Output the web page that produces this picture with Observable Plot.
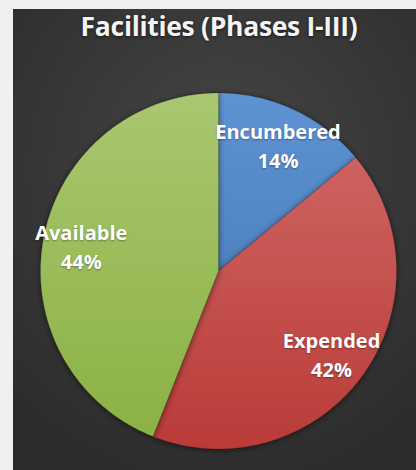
<!DOCTYPE html>
<html>
<head>
<meta charset="utf-8">
<script src="https://cdn.jsdelivr.net/npm/d3@7"></script>
<script src="https://cdn.jsdelivr.net/npm/@observablehq/plot@0.6"></script>
<style>
  html, body { margin: 0; padding: 0; background: #f0f0f0; width: 416px; height: 470px; overflow: hidden; }
  #panel { position: absolute; left: 13px; top: 9px; width: 403px; height: 461px;
    background: radial-gradient(ellipse 75% 70% at 52% 35%, #474747 0%, #3a3a3a 45%, #2c2c2c 100%); }
  #title { position: absolute; left: 0; top: -1px; width: 412px; text-align: center; color: #f4f4f4;
    font-family: "Open Sans", sans-serif; font-weight: 700; font-size: 26.5px; letter-spacing: -0.3px;
    text-shadow: 0 1px 3px rgba(0,0,0,0.6); }
  #chart { position: absolute; left: 0; top: 61px; }
  #chart svg { overflow: visible; }
</style>
</head>
<body>
<div id="panel">
  <div id="title">Facilities (Phases I-III)</div>
  <div id="chart"></div>
</div>
<script>
const categories = ["Encumbered", "Expended", "Available"];
const values = [14, 42, 44];
const labels = ["14%", "42%", "44%"];
const colors = ["url(#gBlue)", "url(#gRed)", "url(#gGreen)"];

const pie = d3.pie().sort(null).value(d => d)(values);

// Build slice outlines in unit-circle data space
const slices = [];
pie.forEach((p, i) => {
  const steps = Math.max(8, Math.ceil((p.endAngle - p.startAngle) / 0.01));
  slices.push({cat: categories[i], x: 0, y: 0});
  for (let s = 0; s <= steps; s++) {
    const a = p.startAngle + (p.endAngle - p.startAngle) * s / steps;
    slices.push({cat: categories[i], x: Math.sin(a), y: Math.cos(a)});
  }
});

const labelData = pie.map((p, i) => {
  const a = (p.startAngle + p.endAngle) / 2;
  return {x: 0.785 * Math.sin(a), y: 0.785 * Math.cos(a), text: categories[i] + "\n" + labels[i]};
});

const W = 403, H = 400;
const cx = 205, cy = 200.5, R = 178;

const marks = categories.map((c, i) =>
  Plot.line(slices.filter(d => d.cat === c), {x: "x", y: "y", fill: colors[i], stroke: "rgba(0,0,0,0.18)", strokeWidth: 0.8, curve: "linear-closed"})
);
marks.push(Plot.text(labelData, {x: "x", y: "y", text: "text", fill: "white", fontSize: 20, fontWeight: "bold", lineHeight: 1.45,
  fontFamily: "Open Sans, sans-serif"}));

const svg = Plot.plot({
  width: W, height: H,
  marginLeft: cx - R, marginRight: W - cx - R,
  marginTop: cy - R, marginBottom: H - cy - R,
  x: {domain: [-1, 1], axis: null},
  y: {domain: [-1, 1], axis: null},
  style: {background: "transparent"},
  marks
});

const defs = d3.select(svg).insert("defs", ":first-child");
function grad(id, top, bottom) {
  const g = defs.append("linearGradient").attr("id", id)
    .attr("gradientUnits", "userSpaceOnUse").attr("x1", 0).attr("y1", cy - R).attr("x2", 0).attr("y2", cy + R);
  g.append("stop").attr("offset", "0%").attr("stop-color", top);
  g.append("stop").attr("offset", "100%").attr("stop-color", bottom);
}
grad("gBlue", "#5e93d3", "#3f72b0");
grad("gRed", "#d26c6a", "#b93b38");
grad("gGreen", "#a9c76f", "#8ab144");
const f = defs.append("filter").attr("id", "shadow").attr("x", "-20%").attr("y", "-20%").attr("width", "140%").attr("height", "140%");
f.append("feDropShadow").attr("dx", 0).attr("dy", 1).attr("stdDeviation", 3).attr("flood-color", "#000").attr("flood-opacity", 0.55);
d3.select(svg).selectAll("g[aria-label='line']").attr("filter", "url(#shadow)");
d3.select(svg).selectAll("g[aria-label='text']").style("text-shadow", "0 1px 2px rgba(0,0,0,0.35)");

document.getElementById("chart").appendChild(svg);
</script>
</body>
</html>
